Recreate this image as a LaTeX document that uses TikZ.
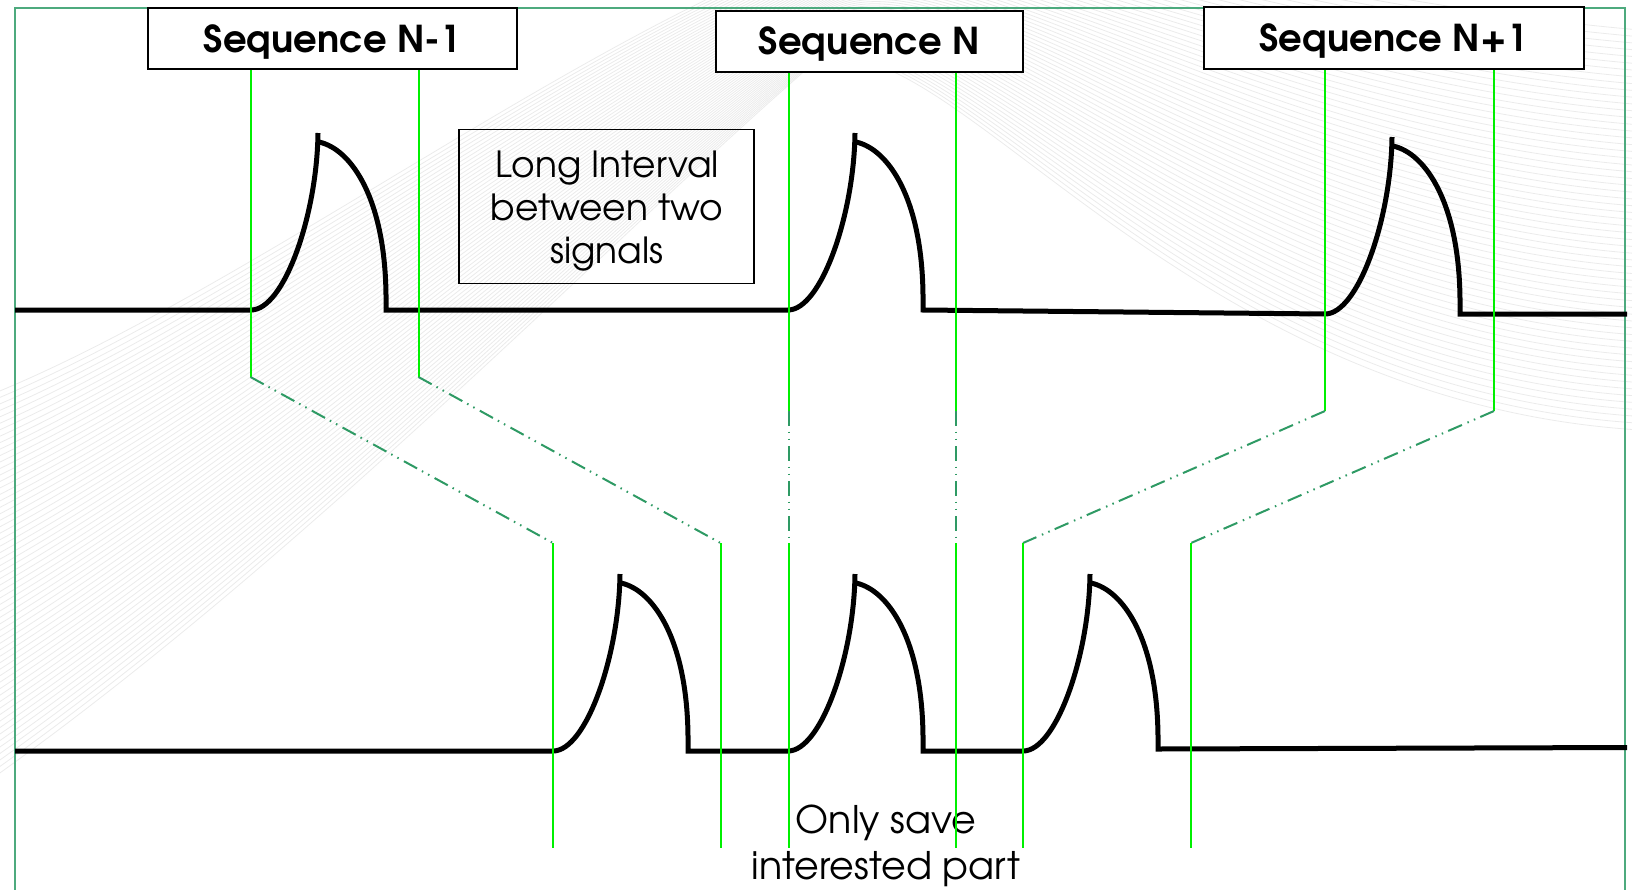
\documentclass[tikz,border=0pt]{standalone}
\usepackage{fontspec}
\setmainfont{texgyreadventor}[Extension=.otf, UprightFont=*-regular, BoldFont=*-bold, ItalicFont=*-italic, BoldItalicFont=*-bolditalic]
\definecolor{brightgreen}{HTML}{00F000}
\definecolor{dashgreen}{HTML}{2E9A64}
\definecolor{framegreen}{HTML}{4DAA7E}
\tikzset{
  seqbox/.style={draw=black, line width=2pt, fill=white, inner sep=0pt,
    text height=27pt, text depth=0pt, font=\bfseries\fontsize{37}{44}\selectfont},
  notebox/.style={draw=black, line width=1.5pt, inner sep=0pt},
  notetext/.style={inner sep=0pt, align=center, font=\fontsize{36}{43}\selectfont},
  plaintext/.style={inner sep=0pt, align=center, font=\fontsize{38}{46}\selectfont},
  sig/.style={line width=5pt, line cap=butt, line join=miter},
  guide/.style={brightgreen, line width=2pt},
  link/.style={dashgreen, line width=2pt, dash pattern=on 15pt off 5.5pt on 1.5pt off 5.5pt on 1.5pt off 6pt},
  bgline/.style={black!8, line width=0.8pt},
  frameline/.style={framegreen, line width=1.8pt},
}
\begin{document}
\begin{tikzpicture}[x=1pt, y=-1pt]
\useasboundingbox (0,0) rectangle (1632,889);
% faint background waves
\begin{scope}
\clip (0,0) rectangle (1632,889);
\foreach \i in {0,...,59}{
  \pgfmathsetmacro\t{\i/59}
  \pgfmathsetmacro\ay{780-385*\t}
  \pgfmathsetmacro\bx{300-50*\t}  \pgfmathsetmacro\by{560-270*\t}
  \pgfmathsetmacro\cy{250-230*\t}
  \pgfmathsetmacro\dx{800+50*\t}  \pgfmathsetmacro\dy{75-135*\t}
  \pgfmathsetmacro\ex{920+80*\t}  \pgfmathsetmacro\ey{-30-78*\t}
  \pgfmathsetmacro\fx{1150+140*\t} \pgfmathsetmacro\fy{400-400*\t}
  \pgfmathsetmacro\gy{430-400*\t}
  \draw[bgline] (-10,\ay) .. controls (\bx,\by) and (600,\cy) .. (\dx,\dy)
     .. controls (\ex,\ey) and (\fx,\fy) .. (1640,\gy);
}
\end{scope}
% frame
\draw[frameline] (15,900) -- (15,8) -- (1625,8) -- (1625,900);
% boxes
\node[seqbox, minimum width=369pt, minimum height=61pt] (sA) at (332.5,38.5) {Sequence N-1};
\node[seqbox, minimum width=307pt, minimum height=61pt] (sB) at (869.5,41) {Sequence N};
\node[seqbox, minimum width=380pt, minimum height=62pt] (sC) at (1393.5,38.3) {Sequence N+1};
\node[notebox, minimum width=295pt, minimum height=154pt] (gap) at (606.5,206.5) {};
\node[notetext] (gaptext) at (607,211.5) {Long Interval\\between two\\signals};
\node[plaintext] (save) at (886,846) {Only save\\interested part};
% top signal row
\draw[sig] (15,310) -- (251,310) .. controls (284,310) and (317,215) .. (318,133);
\draw[sig] (319,142) .. controls (351,149) and (385,198) .. (386,295) -- (386,310) -- (788,310)
  .. controls (821,310) and (854,215) .. (855,133);
\draw[sig] (856,142) .. controls (888,149) and (922,198) .. (923,295) -- (923,310) -- (1325,314)
  .. controls (1358,314) and (1391,219) .. (1392,137);
\draw[sig] (1393,146) .. controls (1425,153) and (1459,202) .. (1460,299) -- (1460,314) -- (1627,314);
% bottom signal row
\draw[sig] (15,751) -- (553,751) .. controls (586,751) and (619,656) .. (620,574);
\draw[sig] (621,583) .. controls (653,590) and (687,639) .. (688,736) -- (688,751) -- (788,751)
  .. controls (821,751) and (854,656) .. (855,574);
\draw[sig] (856,583) .. controls (888,590) and (922,639) .. (923,736) -- (923,751) -- (1023,751)
  .. controls (1056,751) and (1089,656) .. (1090,574);
\draw[sig] (1091,583) .. controls (1123,590) and (1157,639) .. (1158,736) -- (1158,749) -- (1627,747.5);
% guide coordinates
\coordinate (a1) at (250.5,377);  \coordinate (a2) at (418.5,377);
\coordinate (a3) at (553,543);    \coordinate (a4) at (720.5,543);
\coordinate (a5) at (553,848);    \coordinate (a6) at (720.5,848);
\coordinate (b1) at (789,411);    \coordinate (b2) at (956,411);
\coordinate (b3) at (789,543);    \coordinate (b4) at (956,543);
\coordinate (b5) at (789,848);    \coordinate (b6) at (956,848);
\coordinate (c1) at (1325,411);   \coordinate (c2) at (1494,411);
\coordinate (c3) at (1023,543);   \coordinate (c4) at (1191,543);
\coordinate (c5) at (1023,848);   \coordinate (c6) at (1191,848);
% Sequence N-1 guides
\draw[guide] (a1 |- sA.south) -- (a1);
\draw[guide] (a2 |- sA.south) -- (a2);
\draw[link] (a1) -- (a3);
\draw[link] (a2) -- (a4);
\draw[guide] (a3) -- (a5);
\draw[guide] (a4) -- (a6);
% Sequence N guides
\draw[guide] (b1 |- sB.south) -- (b1);
\draw[guide] (b2 |- sB.south) -- (b2);
\draw[link] (b1) -- (b3);
\draw[link] (b2) -- (b4);
\draw[guide] (b3) -- (b5);
\draw[guide] (b4) -- (b6);
% Sequence N+1 guides
\draw[guide] (c1 |- sC.south) -- (c1);
\draw[guide] (c2 |- sC.south) -- (c2);
\draw[link] (c1) -- (c3);
\draw[link] (c2) -- (c4);
\draw[guide] (c3) -- (c5);
\draw[guide] (c4) -- (c6);
\end{tikzpicture}
\end{document}
